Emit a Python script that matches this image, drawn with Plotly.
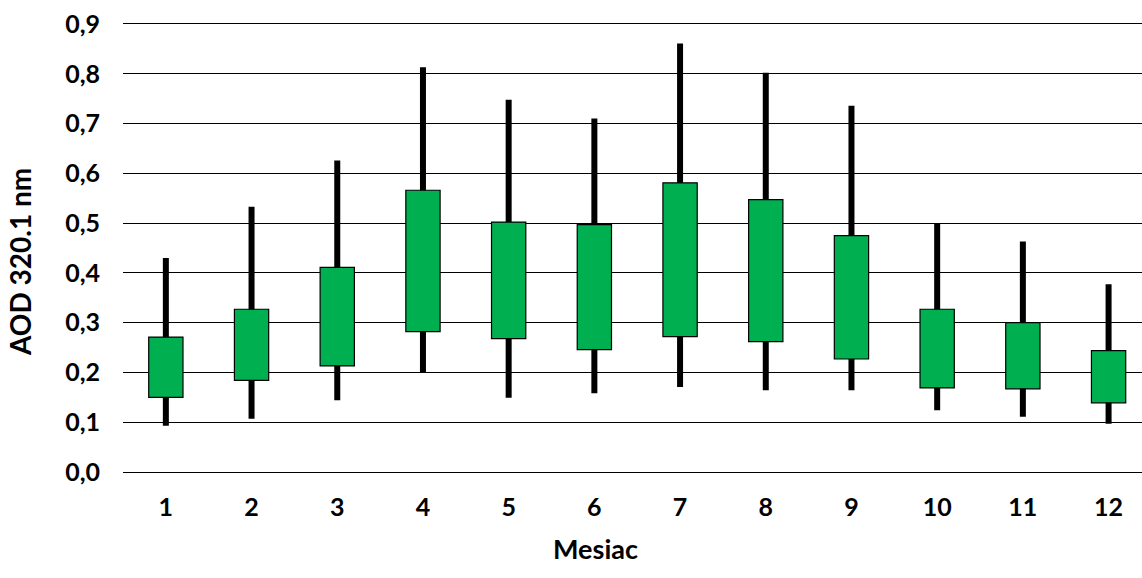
import plotly.graph_objects as go

months = [1, 2, 3, 4, 5, 6, 7, 8, 9, 10, 11, 12]
low = [0.093, 0.107, 0.144, 0.200, 0.149, 0.158, 0.171, 0.164, 0.164, 0.124, 0.111, 0.097]
q1 = [0.150, 0.184, 0.213, 0.282, 0.268, 0.246, 0.272, 0.262, 0.227, 0.169, 0.167, 0.139]
q3 = [0.271, 0.327, 0.411, 0.566, 0.502, 0.497, 0.581, 0.547, 0.475, 0.327, 0.300, 0.244]
high = [0.430, 0.533, 0.626, 0.813, 0.748, 0.710, 0.861, 0.802, 0.736, 0.499, 0.463, 0.377]
y_ticks = [0.0, 0.1, 0.2, 0.3, 0.4, 0.5, 0.6, 0.7, 0.8, 0.9]

FONT = "Lato"
fig = go.Figure()
fig.add_trace(go.Bar(
    x=months, base=low, y=[h - l for h, l in zip(high, low)],
    width=0.07, marker=dict(color="black", line=dict(width=0)),
    hoverinfo="skip", showlegend=False))
fig.add_trace(go.Bar(
    x=months, base=q1, y=[b - a for a, b in zip(q1, q3)],
    width=0.40, marker=dict(color="#00B050", line=dict(color="black", width=1.2)),
    showlegend=False))

fig.update_layout(
    width=1142, height=578,
    margin=dict(l=123, r=0, t=24, b=106),
    paper_bgcolor="white", plot_bgcolor="white",
    barmode="overlay", separators=", ",
    font=dict(family=FONT, size=25, color="black"),
    showlegend=False,
    annotations=[
        dict(text="<b>AOD 320.1 nm</b>", xref="paper", yref="paper",
             x=-0.101, y=0.469, xanchor="center", yanchor="middle",
             textangle=-90, showarrow=False, font=dict(size=28)),
        dict(text="<b>Mesiac</b>", xref="paper", yref="paper",
             x=0.464, y=-0.170, xanchor="center", yanchor="middle",
             showarrow=False, font=dict(size=27)),
    ],
)
fig.update_xaxes(
    range=[0.5, 12.39], tickmode="array", tickvals=months,
    ticktext=[f"<b>{m}</b>" for m in months],
    showgrid=False, zeroline=False,
    showline=True, mirror=True, linecolor="black", linewidth=1.4,
    ticks="", ticklabelstandoff=13, automargin=False,
)
fig.update_yaxes(
    range=[0, 0.9], tickmode="array", tickvals=y_ticks,
    ticktext=[f"<b>{v:.1f}</b>".replace(".", ",") for v in y_ticks],
    showgrid=True, gridcolor="black", gridwidth=1.4,
    zeroline=False, showline=False, ticks="", ticklabelstandoff=22,
    automargin=False,
)
fig.write_html("out.html", config={"displayModeBar": False},
               post_script="document.body.style.margin='0';")
